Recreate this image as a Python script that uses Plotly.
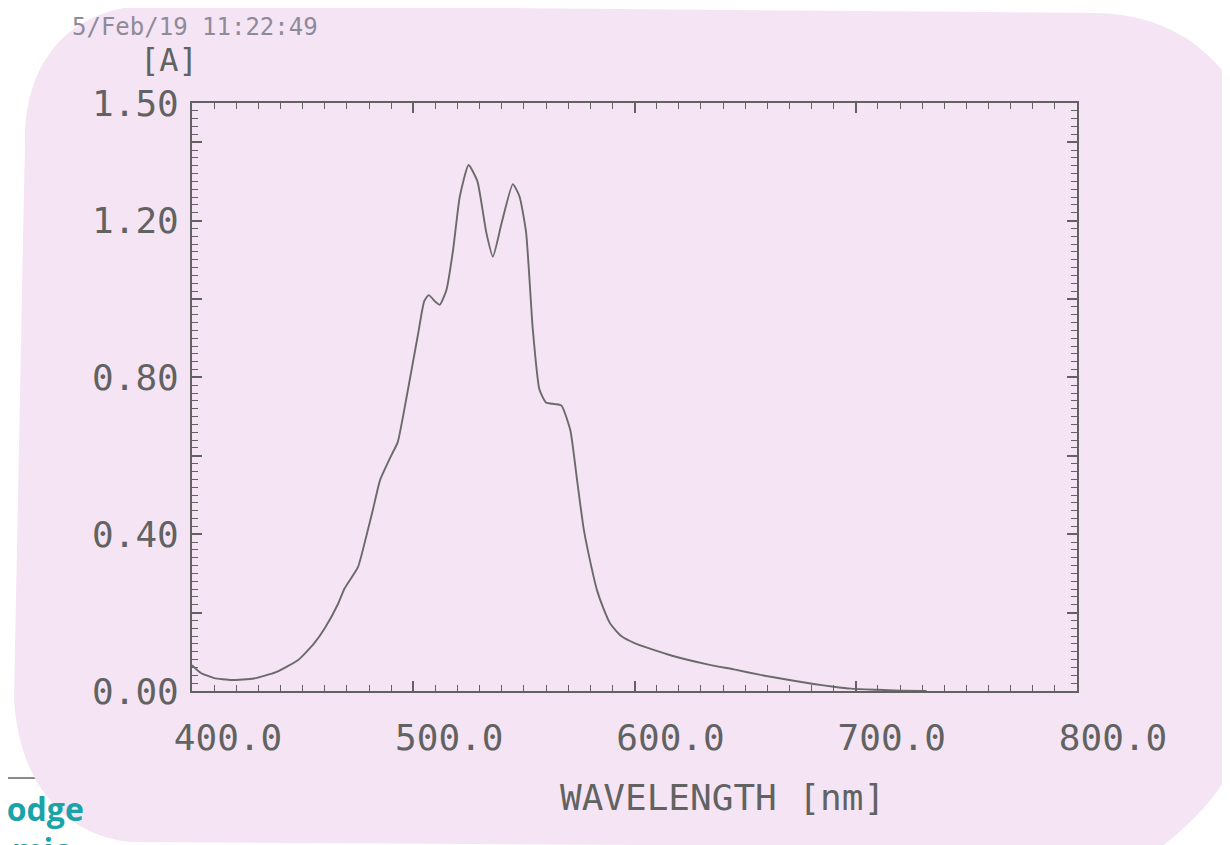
import plotly.graph_objects as go

# ---- data ----
wavelength_nm = [400, 404, 410, 418, 428, 438, 448, 455, 460, 466,
                 469, 475, 479, 482, 485, 490, 493, 497, 502, 505,
                 507, 510, 512, 515, 518, 521, 525, 529, 533, 536,
                 540, 545, 548, 551, 554, 557, 560, 564, 567, 571,
                 574, 577, 580, 583, 586, 589, 594, 600, 607, 617,
                 633, 645, 657, 670, 681, 690, 698, 710, 720, 732]
absorbance = [0.066, 0.046, 0.033, 0.028, 0.032, 0.048, 0.079, 0.120, 0.160, 0.222,
              0.262, 0.316, 0.400, 0.468, 0.538, 0.600, 0.635, 0.750, 0.905, 0.995,
              1.010, 0.993, 0.985, 1.023, 1.125, 1.260, 1.342, 1.300, 1.170, 1.108,
              1.195, 1.293, 1.262, 1.170, 0.925, 0.770, 0.736, 0.732, 0.728, 0.665,
              0.540, 0.415, 0.330, 0.258, 0.210, 0.172, 0.140, 0.122, 0.108, 0.090,
              0.068, 0.055, 0.041, 0.028, 0.018, 0.011, 0.006, 0.003, 0.001, 0.000]

y_tickvals = [0.0, 0.2, 0.4, 0.6, 0.8, 1.0, 1.2, 1.4, 1.5]
y_ticktext = ["0.00", "", "0.40", "", "0.80", "", "1.20", "", "1.50"]
x_title = "WAVELENGTH [nm]"
y_title = "[A]"
timestamp = "5/Feb/19 11:22:49"

# ---- layout geometry (page pixels; the page body has an 8px margin) ----
OFF = 8
W, H = 1230 - OFF, 845 - OFF
PL, PT, PW, PH = 192 - OFF, 103 - OFF, 885, 588


def px(x):
    return (x - OFF - PL) / PW


def py(y):
    return (PT + PH - (y - OFF)) / PH


INK = "#626262"
MONO = "DejaVu Sans Mono"
PINK = "#F5E5F4"

fig = go.Figure()
fig.add_trace(go.Scatter(
    x=wavelength_nm, y=absorbance, mode="lines",
    line=dict(color="#6a6a6a", width=1.9, shape="spline", smoothing=0.5),
    hoverinfo="x+y", showlegend=False,
))

# paper sheet outline (rounded pink scan)
pts = [
    ("M", [(25, 140)]),
    ("C", [(25, 60), (70, 8), (150, 5)]),
    ("L", [(1100, 13)]),
    ("C", [(1170, 16), (1215, 50), (1242, 100)]),
    ("L", [(1248, 700)]),
    ("C", [(1248, 760), (1215, 805), (1160, 848)]),
    ("L", [(130, 842)]),
    ("C", [(70, 836), (20, 790), (14, 700)]),
]
path = ""
for cmd, coords in pts:
    path += cmd + " " + " ".join(f"{px(x):.5f},{py(y):.5f}" for x, y in coords) + " "
path += "Z"

shapes = [
    dict(type="line", xref="paper", yref="paper", x0=px(0), x1=px(1240), y0=py(778), y1=py(778),
         line=dict(color="#8a8a8a", width=2), layer="below"),
    dict(type="path", xref="paper", yref="paper", path=path,
         fillcolor=PINK, line=dict(width=0), layer="below"),
]

annotations = [
    dict(text=x_title, xref="paper", yref="paper", x=px(722), y=py(797),
         xanchor="center", yanchor="middle", showarrow=False,
         font=dict(family=MONO, size=36, color=INK)),
    dict(text=y_title, xref="paper", yref="paper", x=px(169), y=py(60),
         xanchor="center", yanchor="middle", showarrow=False,
         font=dict(family=MONO, size=32, color=INK)),
    dict(text=timestamp, xref="paper", yref="paper", x=px(70), y=py(27),
         xanchor="left", yanchor="middle", showarrow=False,
         font=dict(family=MONO, size=24, color="#8e8a9a")),
    dict(text="<b>Hodgepodge</b>", xref="paper", yref="paper", x=px(86), y=py(808),
         xanchor="right", yanchor="middle", showarrow=False,
         font=dict(family="Open Sans", size=32, color="#1aa3a8")),
    dict(text="<b>Academic</b>", xref="paper", yref="paper", x=px(72), y=py(826),
         xanchor="right", yanchor="top", showarrow=False,
         font=dict(family="Open Sans", size=32, color="#1aa3a8")),
]

fig.update_layout(
    width=W, height=H,
    margin=dict(l=PL, r=W - PL - PW, t=PT, b=H - PT - PH, pad=0),
    paper_bgcolor="white", plot_bgcolor="rgba(0,0,0,0)",
    shapes=shapes, annotations=annotations, showlegend=False,
    xaxis=dict(
        range=[400, 800], tickmode="linear", tick0=400, dtick=100, tickformat=".1f",
        ticks="inside", ticklen=10, tickwidth=1.5, tickcolor=INK,
        showline=True, linecolor=INK, linewidth=2, mirror="ticks",
        showgrid=False, zeroline=False,
        minor=dict(tickmode="linear", tick0=400, dtick=10, ticks="inside",
                   ticklen=6, tickwidth=1.2, tickcolor=INK, showgrid=False),
        tickfont=dict(family=MONO, size=36, color=INK),
        ticklabelshift=36, ticklabelstandoff=14,
    ),
    yaxis=dict(
        range=[0, 1.5], tickmode="array", tickvals=y_tickvals, ticktext=y_ticktext,
        ticks="inside", ticklen=10, tickwidth=1.5, tickcolor=INK,
        showline=True, linecolor=INK, linewidth=2, mirror="ticks",
        showgrid=False, zeroline=False,
        minor=dict(tickmode="linear", tick0=0, dtick=0.02, ticks="inside",
                   ticklen=6, tickwidth=1.2, tickcolor=INK, showgrid=False),
        tickfont=dict(family=MONO, size=36, color=INK),
        ticklabelstandoff=4,
    ),
)

fig.write_html("out.html")
